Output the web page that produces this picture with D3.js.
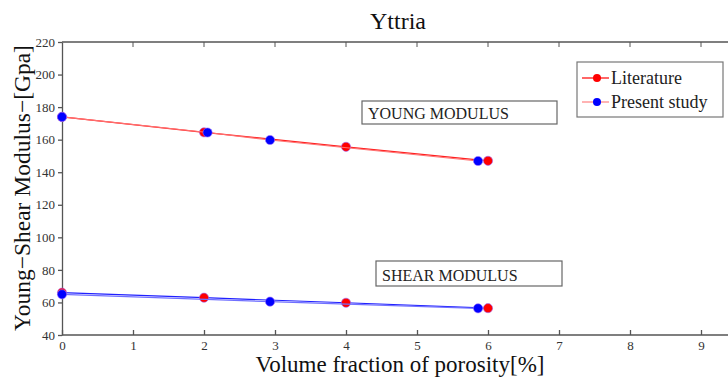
<!DOCTYPE html>
<html>
<head>
<meta charset="utf-8">
<script src="https://cdn.jsdelivr.net/npm/d3@7"></script>
<style>
  body { margin: 0; background: #fff; }
  svg { display: block; font-family: "Liberation Serif", "DejaVu Serif", serif; }
</style>
</head>
<body>
<div id="chart"></div>
<script>
// data
var xTicks = [0, 1, 2, 3, 4, 5, 6, 7, 8, 9];
var yTicks = [40, 60, 80, 100, 120, 140, 160, 180, 200, 220];

var litX = [0, 2, 4, 6];
var litYoung = [174, 164.5, 155.6, 147];
var litShear = [66, 62.9, 59.8, 56.5];

var presYoungX = [0, 2.05, 2.93, 5.86];
var presYoung = [174, 164.4, 159.8, 146.9];
var presShearX = [0, 2.93, 5.86];
var presShear = [65, 60.5, 56.4];

var legendNames = ["Literature", "Present study"];

// chart size
var width = 728, height = 378;
var margins = {top: 42, left: 62, bottom: 43};
var serif = "'Liberation Serif', 'DejaVu Serif', serif";

var svg = d3.select("#chart").append("svg")
    .attr("width", width)
    .attr("height", height);

// scales (x runs to 10, right side is cut off by the window)
var xScale = d3.scaleLinear().domain([0, 10]).range([margins.left, margins.left + 710]);
var yScale = d3.scaleLinear().domain([40, 220]).range([height - margins.bottom, margins.top]);

var axisColor = "#555";

// top frame line
svg.append("line")
    .attr("x1", xScale(0)).attr("x2", width)
    .attr("y1", yScale(220)).attr("y2", yScale(220))
    .style("stroke", axisColor).style("stroke-width", 1.3);

// axes
var xAxis = d3.axisBottom(xScale).tickValues(xTicks).tickSizeInner(-5).tickSizeOuter(0).tickPadding(6);
var yAxis = d3.axisLeft(yScale).tickValues(yTicks).tickSizeInner(4).tickSizeOuter(0).tickPadding(3);

var gx = svg.append("g")
    .attr("transform", "translate(0," + yScale(40) + ")")
    .call(xAxis);
gx.select(".domain").attr("d", "M" + xScale(0) + ",0H" + width);

var gy = svg.append("g")
    .attr("transform", "translate(" + xScale(0) + ",0)")
    .call(yAxis);

gx.attr("font-family", serif).attr("font-size", 13);
gy.attr("font-family", serif).attr("font-size", 13);

// top mirror ticks
svg.append("g").selectAll("line")
    .data(xTicks.slice(1))
    .enter().append("line")
    .attr("x1", function(d) { return xScale(d); })
    .attr("x2", function(d) { return xScale(d); })
    .attr("y1", yScale(220)).attr("y2", yScale(220) + 5)
    .style("stroke", axisColor);

svg.selectAll(".domain, .tick line")
    .style("stroke", axisColor).style("stroke-width", 1.3);
svg.selectAll(".tick text")
    .style("fill", "#333");

// lines + markers
var line = d3.line()
    .x(function(d) { return xScale(d[0]); })
    .y(function(d) { return yScale(d[1]); });

function series(xs, ys, lineColor, markColor) {
    var pts = xs.map(function(x, i) { return [x, ys[i]]; });
    svg.append("path")
        .datum(pts)
        .attr("d", line)
        .style("fill", "none")
        .style("stroke", lineColor)
        .style("stroke-width", 1.2);
    svg.append("g").selectAll("circle")
        .data(pts)
        .enter().append("circle")
        .attr("cx", function(d) { return xScale(d[0]); })
        .attr("cy", function(d) { return yScale(d[1]); })
        .attr("r", 4.6)
        .style("fill", markColor)
        .style("stroke", "#9a6cff")
        .style("stroke-width", 0.6);
}

series(litX, litYoung, "#ff2020", "#ff0000");
series(presYoungX, presYoung, "#ff7070", "#0000ff");
series(litX, litShear, "#2020ff", "#ff0000");
series(presShearX, presShear, "#7070ff", "#0000ff");

// annotation boxes
function labelBox(x0, y0, w, h, txt) {
    svg.append("rect")
        .attr("x", x0).attr("y", y0).attr("width", w).attr("height", h)
        .style("fill", "#fff").style("stroke", "#666").style("stroke-width", 1.2);
    svg.append("text")
        .attr("x", x0 + 6).attr("y", y0 + h - 5)
        .style("font-size", "16px")
        .style("fill", "#222")
        .text(txt);
}
labelBox(362, 101, 195, 23, "YOUNG MODULUS");
labelBox(376, 261, 186, 25, "SHEAR MODULUS");

// legend
var leg = svg.append("g").attr("transform", "translate(577,62)");
leg.append("rect")
    .attr("width", 146).attr("height", 55)
    .style("fill", "#fff").style("stroke", "#777").style("stroke-width", 1.2);
var legLine = ["#ff0000", "#ff8080"];
var legMark = ["#ff0000", "#0000ff"];
legendNames.forEach(function(name, i) {
    var yy = 16 + i * 24;
    leg.append("line")
        .attr("x1", 5).attr("x2", 32).attr("y1", yy).attr("y2", yy)
        .style("stroke", legLine[i]).style("stroke-width", 1.2);
    leg.append("circle")
        .attr("cx", 20).attr("cy", yy).attr("r", 4)
        .style("fill", legMark[i]);
    leg.append("text")
        .attr("x", 34).attr("y", yy + 6)
        .style("font-size", "18px")
        .style("fill", "#222")
        .text(name);
});

// title + axis labels
svg.append("text")
    .attr("x", 398).attr("y", 29)
    .attr("text-anchor", "middle")
    .style("font-size", "24px")
    .style("fill", "#111")
    .text("Yttria");

svg.append("text")
    .attr("x", 400).attr("y", 372)
    .attr("text-anchor", "middle")
    .style("font-size", "23px")
    .style("fill", "#111")
    .text("Volume fraction of porosity[%]");

svg.append("text")
    .attr("transform", "translate(30," + 188 + ") rotate(-90)")
    .attr("text-anchor", "middle")
    .style("font-size", "23.5px")
    .style("fill", "#111")
    .text("Young\u2212Shear Modulus\u2212[Gpa]");
</script>
</body>
</html>
